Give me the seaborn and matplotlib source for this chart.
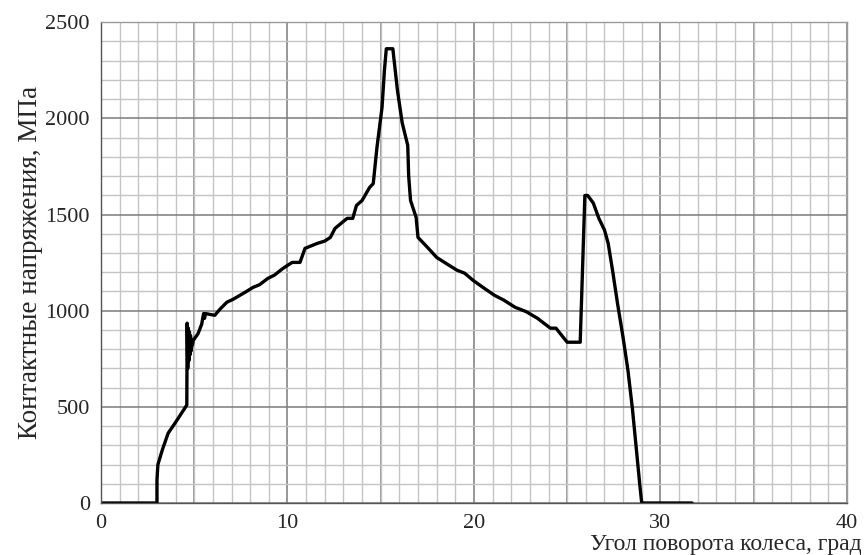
import numpy as np
import pandas as pd
import matplotlib
matplotlib.use("Agg")
import matplotlib.pyplot as plt
import seaborn as sns
from matplotlib.ticker import MultipleLocator

# values
angle = [0.0, 3.0, 3.0, 3.05, 3.3, 3.6, 4.0, 4.6,
         4.62, 4.65, 4.68, 4.71, 4.74, 4.77, 4.80, 4.83, 4.86, 4.90, 4.95,
         5.2, 5.4, 5.5, 5.55, 5.6, 6.1, 6.4, 6.75, 7.1, 7.45, 7.8, 8.15,
         8.5, 8.95, 9.3, 9.76, 10.25, 10.67, 10.94, 11.6, 12.0, 12.3,
         12.55, 13.2, 13.5, 13.7, 14.0, 14.4, 14.6, 14.8, 15.07, 15.2,
         15.3, 15.65, 15.9, 16.15, 16.45, 16.5, 16.6, 16.9, 17.0, 17.5,
         18.0, 18.6, 19.1, 19.5, 19.95, 20.5, 21.1, 21.6, 22.2, 22.8,
         23.4, 24.1, 24.4, 25.0, 25.7, 25.95, 26.1, 26.4, 26.7, 27.0,
         27.2, 27.45, 27.7, 28.0, 28.26, 28.5, 28.7, 28.9, 29.0, 31.7]
stress = [0, 0, 120, 200, 280, 363, 420, 509,
          935, 700, 910, 740, 890, 770, 870, 790, 850, 820, 846,
          880, 930, 985, 960, 985, 976, 1010, 1044, 1060, 1080, 1100, 1121,
          1135, 1168, 1185, 1220, 1251, 1251, 1324, 1350, 1362, 1381,
          1428, 1480, 1480, 1547, 1573, 1640, 1661, 1850, 2056, 2250,
          2362, 2362, 2144, 1978, 1859, 1700, 1573, 1485, 1381, 1330,
          1277, 1240, 1210, 1195, 1158, 1120, 1080, 1055, 1018, 995,
          961, 909, 909, 836, 836, 1599, 1599, 1560, 1480, 1420,
          1350, 1200, 1038, 860, 690, 490, 291, 90, 0, 0]

df = pd.DataFrame({"angle": angle, "stress": stress})

sns.set_style("white")
plt.rcParams["font.family"] = ["Liberation Serif", "DejaVu Serif"]

fig = plt.figure(figsize=(8.65, 5.55), dpi=100)
ax = fig.add_axes([0.1168, 0.0937, 0.979 - 0.1168, 0.960 - 0.0937])

ax.set_xlim(0, 40)
ax.set_ylim(0, 2500)
ax.xaxis.set_major_locator(MultipleLocator(10))
ax.xaxis.set_minor_locator(MultipleLocator(1))
ax.yaxis.set_major_locator(MultipleLocator(500))
ax.yaxis.set_minor_locator(MultipleLocator(100))

# graph paper grid
ax.grid(which="minor", color="#c4c4c4", lw=1.0)
ax.grid(which="major", color="#7a7a7a", lw=1.1)
for v in np.arange(5, 40, 10):
    ax.axvline(v, color="#7a7a7a", lw=1.1, zorder=0.5)
ax.set_axisbelow(True)

sns.lineplot(data=df, x="angle", y="stress", ax=ax, color="black",
             lw=2.4, sort=False, estimator=None)

for s in ax.spines.values():
    s.set_color("#9a9a9a")
    s.set_linewidth(1.0)
ax.spines["left"].set_color("#555555")
ax.spines["bottom"].set_color("#555555")

ax.tick_params(which="major", direction="out", length=6, width=1,
               color="#555555", labelsize=16, pad=2)
ax.tick_params(which="minor", direction="out", length=0)
ax.tick_params(axis="y", which="minor", length=4, color="#777777")

ax.set_xlabel("Угол поворота колеса, град", fontsize=17)
ax.xaxis.set_label_coords(1.02, -0.065)
ax.xaxis.label.set_horizontalalignment("right")
ax.set_ylabel("Контактные напряжения, МПа", fontsize=19.5, labelpad=2)

fig.savefig("out.png", dpi=100)
